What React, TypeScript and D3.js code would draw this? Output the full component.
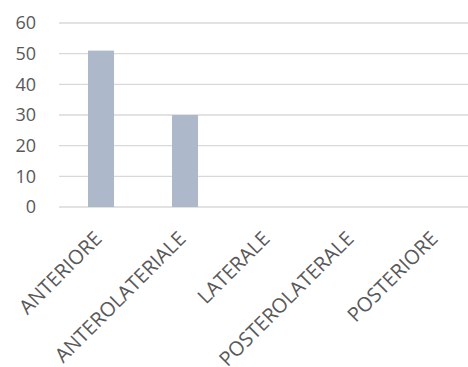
import React from "react";
import * as d3 from "d3";

const categories = ["ANTERIORE", "ANTEROLATERIALE", "LATERALE", "POSTEROLATERALE", "POSTERIORE"];
const values = [51, 30, 0, 0, 0];
const yTicks = [0, 10, 20, 30, 40, 50, 60];

export default function App() {
  const W = 468, H = 367;
  const x = d3.scaleBand<string>().domain(categories).range([59, 479]).padding(0);
  const y = d3.scaleLinear().domain([0, 60]).range([207, 23]);
  const bw = x.bandwidth() * 0.31;
  const font = "'Open Sans', sans-serif";
  return (
    <svg width={W} height={H} style={{ position: "absolute", left: 0, top: 0, background: "#fff" }}>
      {yTicks.map((t) => (
        <g key={t}>
          <line x1={59} x2={W} y1={y(t)} y2={y(t)} stroke="#d9d9d9" strokeWidth={1.3} />
          <text x={36} y={y(t)} dy="0.35em" textAnchor="end" fontFamily={font} fontSize={18} fill="#595959">{t}</text>
        </g>
      ))}
      {categories.map((c, i) => (
        <rect key={c} x={(x(c) as number) + (x.bandwidth() - bw) / 2} y={y(values[i])} width={bw} height={y(0) - y(values[i])} fill="#adb9ca" />
      ))}
      {categories.map((c) => {
        const cx = (x(c) as number) + x.bandwidth() / 2;
        return (
          <text key={c} transform={`translate(${cx + 2},${240}) rotate(-45)`} textAnchor="end" fontFamily={font} fontSize={20} fill="#595959">{c}</text>
        );
      })}
    </svg>
  );
}
